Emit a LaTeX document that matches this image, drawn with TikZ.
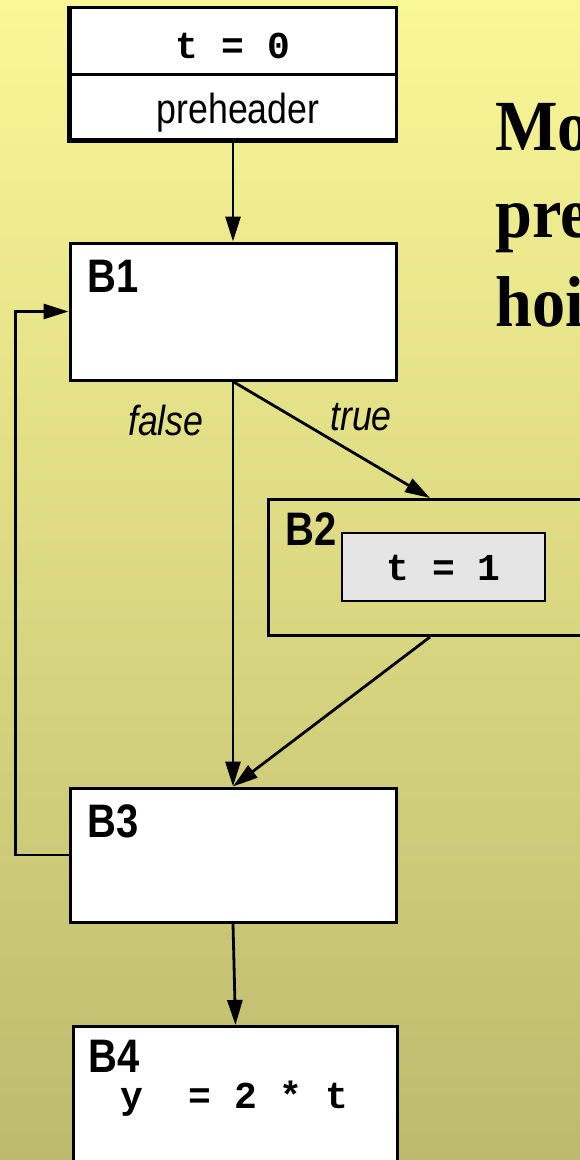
\documentclass[tikz,border=0pt]{standalone}
\usepackage{fontspec}
\setmainfont{Liberation Sans}
\newfontfamily\codefont{Liberation Mono}
\newfontfamily\slidefont{Liberation Serif}
\usetikzlibrary{calc,positioning,arrows.meta}
\definecolor{slidetop}{RGB}{249,247,150}
\definecolor{slidebot}{RGB}{189,186,110}
\definecolor{codegrey}{gray}{0.9}
\newcommand{\nar}[1]{\scalebox{0.85}[1]{#1}}

\begin{document}
\begin{tikzpicture}[x=1pt,y=-1pt]

\tikzset{block/.style={draw,fill=white,line width=3pt,minimum width=326pt,inner sep=0pt},
blabel/.style={font=\fontsize{47}{47}\selectfont\bfseries,anchor=base west,inner sep=0pt},
code/.style={font=\codefont\bfseries\fontsize{38}{38}\selectfont,anchor=base,inner sep=0pt},
branch/.style={font=\fontsize{42}{42}\selectfont\itshape,anchor=base west,inner sep=0pt},
slidetitle/.style={font=\slidefont\bfseries\fontsize{72}{72}\selectfont,anchor=base west,inner sep=0pt},
flow/.style={line width=2.8pt,-{Triangle[length=25pt,width=15pt]}}}

% Background
\useasboundingbox (0,0) rectangle (580,1160);
\clip (0,0) rectangle (580,1160);
\shade[top color=slidetop,bottom color=slidebot] (0,0) rectangle (580,1160);

% Preheader
\node[block,minimum height=67pt] (init) at (233,40.5) {};
\node[block,minimum height=66pt] (pre) at (233,107) {};
\draw[line width=5pt] ($(init.north west)+(1,0)$) -- ($(pre.south west)+(1,-1)$) -- ($(pre.south east)+(0,-1)$);
\node[code] (initcode) at (233,58) {t = 0};
\node[anchor=base,font=\fontsize{42}{42}\selectfont,inner sep=0pt] (pretext) at (238,123) {\nar{preheader}};

% Blocks
\node[block,minimum height=137pt] (B1) at (233,311.5) {};
\node[blabel] (B1label) at (87,292) {\nar{B1}};

\node[draw,line width=3pt,minimum width=360pt,minimum height=136pt,inner sep=0pt,anchor=north west] (B2) at (267,498) {};
\node[blabel] (B2label) at (285,545) {\nar{B2}};
\node[draw,fill=codegrey,line width=2.5pt,minimum width=203pt,minimum height=68pt,inner sep=0pt] (B2code) at (443.5,567) {};
\node[code] (B2text) at (443.5,580) {t = 1};

\node[block,minimum height=134pt] (B3) at (233,855) {};
\node[blabel] (B3label) at (87,837) {\nar{B3}};

\node[block,minimum height=160pt,minimum width=324pt,anchor=north west] (B4) at (72,1025) {};
\node[blabel] (B4label) at (88,1072) {\nar{B4}};
\node[code,anchor=base west] (B4code) at (120,1108) {y\ \ = 2 * t};

% Branch labels
\node[branch] (falselabel) at (128,435) {\nar{false}};
\node[branch] (truelabel) at (330,430) {\nar{true}};

% Slide title
\node[slidetitle] (title1) at (495,150) {\scalebox{0.92}[1]{Mo}};
\node[slidetitle] (title2) at (495,237) {\scalebox{0.92}[1]{pre}};
\node[slidetitle] (title3) at (495,326) {\scalebox{0.92}[1]{hoi}};

% Edges
\coordinate (B2in) at ($(B2.north west)+(163,0)$);
\coordinate (B2out) at ($(B2.south west)+(163,0)$);
\draw[flow] (pre.south) -- (B1.north);
\draw[flow] (B1.south) -- (B3.north);
\draw[flow] (B1.south) -- (B2in);
\draw[flow] (B2out) -- (B3.north);
\draw[flow] (B3.west) -- ++(-53,0) |- (B1.west);
\draw[flow] (B3.south) -- (B4.north);

\end{tikzpicture}
\end{document}
